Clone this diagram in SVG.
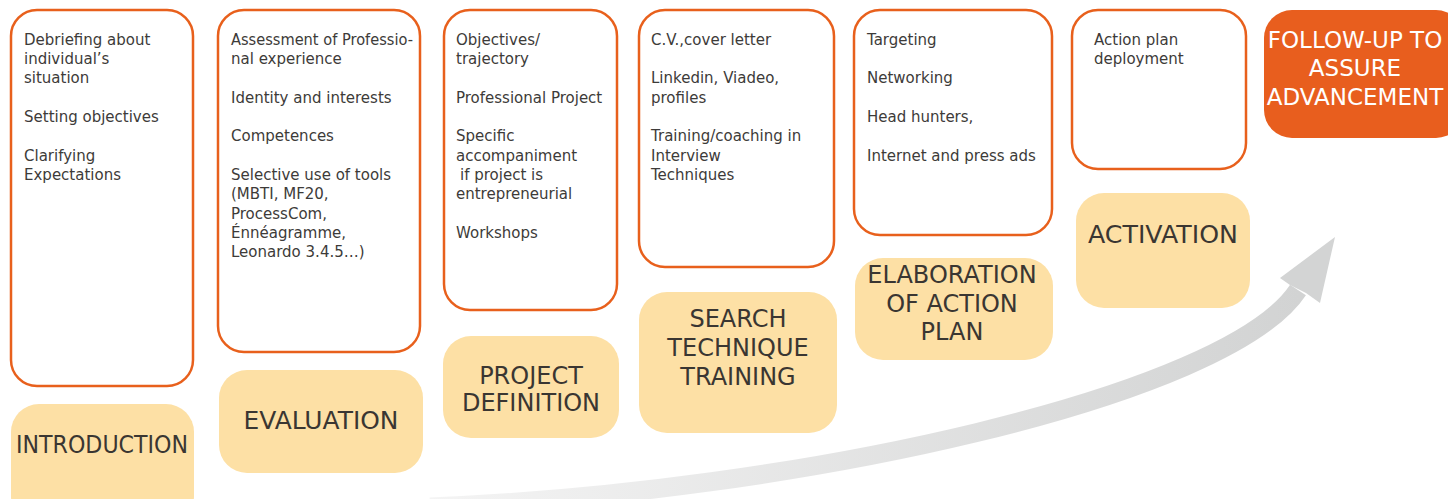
<svg xmlns="http://www.w3.org/2000/svg" width="1448" height="499" viewBox="0 0 1448 499">
<style>
.card{fill:#ffffff;stroke:#E8601C;stroke-width:2.5}
.stage{fill:#FDE0A5}
.final{fill:#E85E1E}
.body{font-family:"DejaVu Sans","Liberation Sans",sans-serif;font-size:15px;fill:#3d3b39}
.head{font-family:"DejaVu Sans","Liberation Sans",sans-serif;font-size:24px;fill:#3a3632;text-anchor:middle}
.headw{font-family:"DejaVu Sans","Liberation Sans",sans-serif;font-size:23px;fill:#ffffff;text-anchor:middle}
</style>
<defs>
<linearGradient id="shaftGrad" gradientUnits="userSpaceOnUse" x1="430" y1="0" x2="1300" y2="0">
<stop offset="0" stop-color="#f4f4f4"/>
<stop offset="1" stop-color="#d2d3d3"/>
</linearGradient>
</defs>
<g id="connectors">
<path d="M430 507 C800 492 1228 396 1298 290" fill="none" stroke="url(#shaftGrad)" stroke-width="19"/>
<polygon points="1335,237 1320,303 1306,293 1290,285 1280,278" fill="#d3d4d4"/>
</g>
<g id="col1">
<rect class="card" x="11" y="10" width="182" height="376" rx="26"/>
<text class="body"><tspan x="24" y="44.5">Debriefing about</tspan><tspan x="24" y="63.8">individual’s</tspan><tspan x="24" y="83.2">situation</tspan><tspan x="24" y="121.9">Setting objectives</tspan><tspan x="24" y="160.6">Clarifying</tspan><tspan x="24" y="179.9">Expectations</tspan></text>
</g>
<g id="introduction">
<rect class="stage" x="11" y="404" width="183" height="120" rx="28"/>
<text class="head" x="102" y="453" textLength="172" lengthAdjust="spacingAndGlyphs">INTRODUCTION</text>
</g>
<g id="col2">
<rect class="card" x="218" y="10" width="202" height="342" rx="26"/>
<text class="body"><tspan x="231" y="44.5" textLength="182" lengthAdjust="spacingAndGlyphs">Assessment of Professio-</tspan><tspan x="231" y="63.8">nal experience</tspan><tspan x="231" y="102.5">Identity and interests</tspan><tspan x="231" y="141.2">Competences</tspan><tspan x="231" y="179.9">Selective use of tools</tspan><tspan x="231" y="199.3">(MBTI, MF20,</tspan><tspan x="231" y="218.6">ProcessCom,</tspan><tspan x="231" y="238">Énnéagramme,</tspan><tspan x="231" y="257.3">Leonardo 3.4.5…)</tspan></text>
</g>
<g id="evaluation">
<rect class="stage" x="219" y="370" width="204" height="103" rx="28"/>
<text class="head" x="321" y="429" textLength="155" lengthAdjust="spacingAndGlyphs">EVALUATION</text>
</g>
<g id="col3">
<rect class="card" x="444" y="10" width="173" height="300" rx="26"/>
<text class="body"><tspan x="456" y="44.5">Objectives/</tspan><tspan x="456" y="63.8">trajectory</tspan><tspan x="456" y="102.5">Professional Project</tspan><tspan x="456" y="141.2">Specific</tspan><tspan x="456" y="160.6">accompaniment</tspan><tspan x="460" y="179.9">if project is</tspan><tspan x="456" y="199.3">entrepreneurial</tspan><tspan x="456" y="238">Workshops</tspan></text>
</g>
<g id="project-definition">
<rect class="stage" x="443" y="336" width="176" height="102" rx="28"/>
<text class="head"><tspan x="531" y="384">PROJECT</tspan><tspan x="531" y="411">DEFINITION</tspan></text>
</g>
<g id="col4">
<rect class="card" x="639" y="10" width="195" height="257" rx="26"/>
<text class="body"><tspan x="651" y="44.5">C.V.,cover letter</tspan><tspan x="651" y="83.2">Linkedin, Viadeo,</tspan><tspan x="651" y="102.5">profiles</tspan><tspan x="651" y="141.2">Training/coaching in</tspan><tspan x="651" y="160.6">Interview</tspan><tspan x="651" y="179.9">Techniques</tspan></text>
</g>
<g id="search-technique-training">
<rect class="stage" x="639" y="292" width="198" height="141" rx="28"/>
<text class="head"><tspan x="738" y="327">SEARCH</tspan><tspan x="738" y="356">TECHNIQUE</tspan><tspan x="738" y="385">TRAINING</tspan></text>
</g>
<g id="col5">
<rect class="card" x="854" y="10" width="198" height="225" rx="26"/>
<text class="body"><tspan x="867" y="44.5">Targeting</tspan><tspan x="867" y="83.2">Networking</tspan><tspan x="867" y="121.9">Head hunters,</tspan><tspan x="867" y="160.6">Internet and press ads</tspan></text>
</g>
<g id="elaboration">
<rect class="stage" x="855" y="258" width="198" height="102" rx="28"/>
<text class="head"><tspan x="952" y="283">ELABORATION</tspan><tspan x="952" y="312">OF ACTION</tspan><tspan x="952" y="340">PLAN</tspan></text>
</g>
<g id="col6">
<rect class="card" x="1072" y="10" width="174" height="159" rx="26"/>
<text class="body"><tspan x="1094" y="44.5">Action plan</tspan><tspan x="1094" y="63.8">deployment</tspan></text>
</g>
<g id="activation">
<rect class="stage" x="1076" y="193" width="174" height="115" rx="28"/>
<text class="head" x="1163" y="243" textLength="150" lengthAdjust="spacingAndGlyphs">ACTIVATION</text>
</g>
<g id="follow-up">
<rect class="final" x="1264" y="10" width="200" height="128" rx="28"/>
<text class="headw"><tspan x="1355" y="48">FOLLOW-UP TO</tspan><tspan x="1355" y="76">ASSURE</tspan><tspan x="1355" y="105">ADVANCEMENT</tspan></text>
</g>
</svg>
